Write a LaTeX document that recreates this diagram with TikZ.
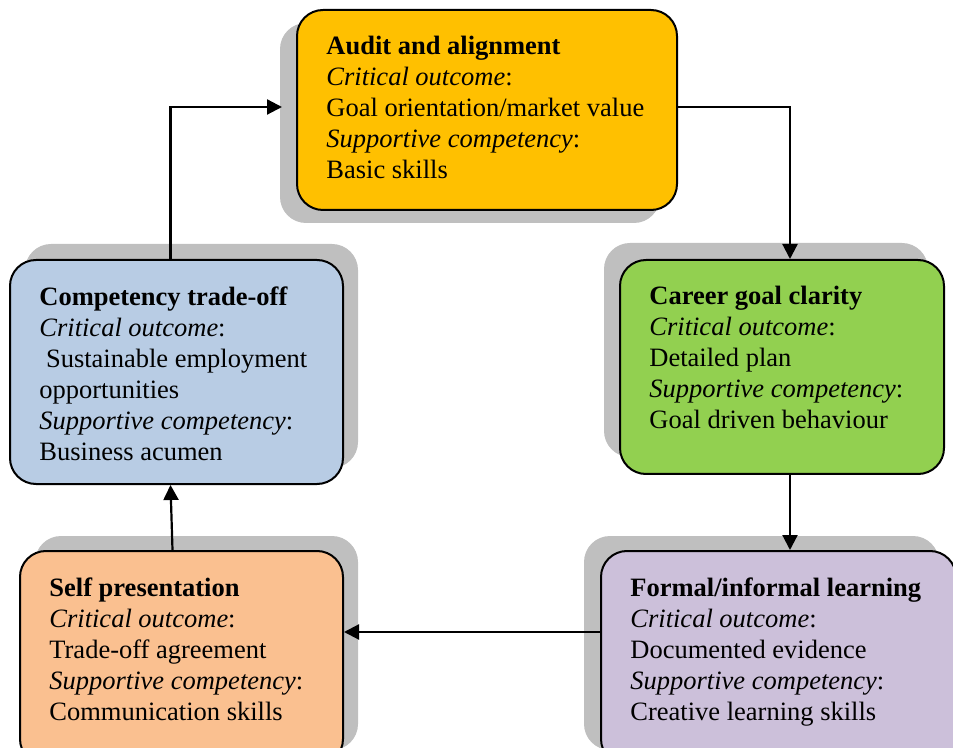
\documentclass[tikz,border=0pt]{standalone}
\usepackage{fontspec}
\setmainfont{Liberation Serif}
\usetikzlibrary{arrows.meta,calc,positioning,shadows}

\definecolor{auditgold}{HTML}{FFC000}
\definecolor{tradeblue}{HTML}{B8CCE4}
\definecolor{careergreen}{HTML}{92D050}
\definecolor{selforange}{HTML}{FAC090}
\definecolor{formalpurple}{HTML}{CCC0DA}

\newcommand{\stagelines}[3]{\textbf{#1}\\\textit{Critical outcome}:\\#2\\\textit{Supportive competency}:\\#3}

\tikzset{
  stagebox/.style={draw, line width=1pt, rounded corners=13pt, inner sep=0pt},
  stagetext/.style={align=left, inner sep=0pt, anchor=north west,
    font=\fontsize{13.25}{15.5}\selectfont},
  shadowat/.style 2 args={drop shadow={shadow xshift=#1, shadow yshift=#2,
    fill=black!25, opacity=1}},
  flow/.style={line width=1.1pt, -{Triangle[length=7.5pt,width=7.5pt]}},
}

\begin{document}
\begin{tikzpicture}[x=0.5pt,y=-0.5pt]
\useasboundingbox (0,0) rectangle (953,748);

% boxes
\node[stagebox, fill=auditgold, minimum width=190pt, minimum height=100pt,
  shadowat={-8.5pt}{-6.5pt}] (audit) at (487,110) {};
\node[stagebox, fill=tradeblue, minimum width=166.5pt, minimum height=112pt,
  shadowat={7.5pt}{8pt}] (trade) at (176.5,372) {};
\node[stagebox, fill=careergreen, minimum width=162pt, minimum height=107pt,
  shadowat={-8pt}{8.5pt}] (career) at (782,367) {};
\node[stagebox, fill=selforange, minimum width=161.5pt, minimum height=107pt,
  shadowat={7.5pt}{7.5pt}] (self) at (181.5,658) {};
\node[stagebox, fill=formalpurple, minimum width=177.5pt, minimum height=107pt,
  shadowat={-8.5pt}{7.5pt}] (formal) at (778.5,658) {};

% texts
\node[stagetext] (audit-txt) at ($(audit.north west)+(30,27)$)
  {\stagelines{Audit and alignment}{Goal orientation/market value}{Basic skills}};
\node[stagetext] (trade-txt) at ($(trade.north west)+(30,27)$)
  {\stagelines{Competency trade-off}{\hspace*{0.25em}Sustainable employment\\opportunities}{Business acumen}};
\node[stagetext] (career-txt) at ($(career.north west)+(30,27)$)
  {\stagelines{Career goal clarity}{Detailed plan}{Goal driven behaviour}};
\node[stagetext] (self-txt) at ($(self.north west)+(30,27)$)
  {\stagelines{Self presentation}{Trade-off agreement}{Communication skills}};
\node[stagetext] (formal-txt) at ($(formal.north west)+(30,27)$)
  {\stagelines{Formal/informal learning}{Documented evidence}{Creative learning skills}};

% connectors (the one into audit stops at its shadow)
\draw[flow] ([xshift=-3pt]trade.north) |- ([xshift=-7pt,yshift=1.5pt]audit.west);
\draw[flow] ([yshift=1.5pt]audit.east) -| ([xshift=4pt]career.north);
\draw[flow] ([xshift=4pt]career.south) -- ([xshift=4pt]career.south |- formal.north);
\draw[flow] ([yshift=13pt]formal.west) -- ([yshift=13pt]self.east);
\draw[flow] ([xshift=-4.5pt]self.north) -- ([xshift=-3pt]trade.south);
\end{tikzpicture}
\end{document}
